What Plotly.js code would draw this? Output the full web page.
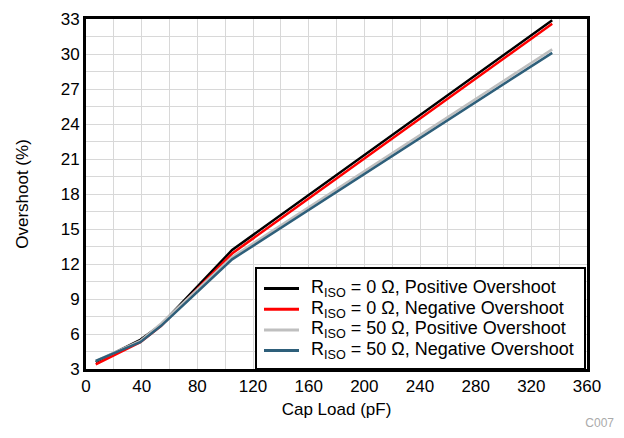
<!DOCTYPE html>
<html>
<head>
<meta charset="utf-8">
<script src="https://cdn.plot.ly/plotly-3.0.1.min.js"></script>
<style>
  html, body { margin: 0; padding: 0; background: #fff; }
  #topline { position: absolute; left: 0; top: 0; width: 624px; height: 2px; background: #555; }
  #chart { width: 624px; height: 438px; }
  #code { position: absolute; right: 10px; top: 416px; font: 12px "Liberation Sans", Arial, sans-serif; color: #aaa; }
</style>
</head>
<body>
<div id="topline"></div>
<div id="chart"></div>
<div id="code">C007</div>
<script>
// Capacitive load (pF)
const capLoad = [7, 39, 54, 105, 335];

// Overshoot (%) for each isolation resistor / edge
const riso0Pos  = [3.6, 5.5, 6.8, 13.2, 32.9];
const riso0Neg  = [3.4, 5.3, 6.7, 12.9, 32.6];
const riso50Pos = [3.7, 5.4, 6.9, 12.6, 30.4];
const riso50Neg = [3.7, 5.3, 6.7, 12.4, 30.1];

const seriesNames = [
  'R<sub>ISO</sub> = 0 Ω, Positive Overshoot',
  'R<sub>ISO</sub> = 0 Ω, Negative Overshoot',
  'R<sub>ISO</sub> = 50 Ω, Positive Overshoot',
  'R<sub>ISO</sub> = 50 Ω, Negative Overshoot'
];
const seriesColors = ['#000000', '#ff0000', '#bfbfbf', '#2e5f7a'];
const seriesValues = [riso0Pos, riso0Neg, riso50Pos, riso50Neg];

const xTicks = [0, 40, 80, 120, 160, 200, 240, 280, 320, 360];
const yTicks = [3, 6, 9, 12, 15, 18, 21, 24, 27, 30, 33];

const traces = seriesValues.map((vals, i) => ({
  x: capLoad,
  y: vals,
  type: 'scatter',
  mode: 'lines',
  name: seriesNames[i],
  showlegend: false,
  line: { color: seriesColors[i], width: 2.5 }
}));

const fontFamily = '"Liberation Sans", Arial, sans-serif';

// Plot-area geometry (px) and a compact boxed key in its lower-right corner
const M = { l: 86, r: 37, t: 19, b: 69 };
const W = 624, H = 438;
const pw = W - M.l - M.r, ph = H - M.t - M.b;
const px = v => (v - M.l) / pw;          // page x -> paper x
const py = v => (H - M.b - v) / ph;      // page y -> paper y

const key = { left: 256, right: 585, top: 268, bottom: 369,
              firstRow: 288.5, rowGap: 20.7, lineX0: 264, lineX1: 299, textX: 309 };

const shapes = [{
  type: 'rect', xref: 'paper', yref: 'paper', layer: 'above',
  x0: px(key.left), x1: px(key.right), y0: py(key.bottom), y1: py(key.top),
  line: { color: '#000', width: 2 }, fillcolor: '#ffffff'
}];
const annotations = [];
seriesNames.forEach((name, i) => {
  const rowY = py(key.firstRow + i * key.rowGap);
  shapes.push({
    type: 'line', xref: 'paper', yref: 'paper', layer: 'above',
    x0: px(key.lineX0), x1: px(key.lineX1), y0: rowY, y1: rowY,
    line: { color: seriesColors[i], width: 3 }
  });
  annotations.push({
    xref: 'paper', yref: 'paper', x: px(key.textX), y: rowY,
    xanchor: 'left', yanchor: 'middle', showarrow: false,
    text: name, font: { family: fontFamily, size: 18, color: '#000' }
  });
});

const layout = {
  width: W,
  height: H,
  margin: M,
  paper_bgcolor: '#ffffff',
  plot_bgcolor: '#ffffff',
  font: { family: fontFamily, size: 17, color: '#000' },
  showlegend: false,
  shapes: shapes,
  annotations: annotations,
  xaxis: {
    range: [0, 360],
    tickvals: xTicks,
    ticktext: xTicks.map(String),
    showgrid: false,
    zeroline: false,
    showline: true, mirror: true, linecolor: '#000', linewidth: 3,
    ticks: '', ticklen: 0,
    tickfont: { size: 17 },
    minor: { dtick: 20, showgrid: true, gridcolor: '#d8d8d8', gridwidth: 1 },
    title: { text: 'Cap Load (pF)', font: { size: 17 }, standoff: 8 }
  },
  yaxis: {
    range: [3, 33],
    tickvals: yTicks,
    ticktext: yTicks.map(String),
    showgrid: false,
    zeroline: false,
    showline: true, mirror: true, linecolor: '#000', linewidth: 3,
    ticks: '', ticklen: 0,
    tickfont: { size: 17 },
    minor: { dtick: 1.5, tick0: 3, showgrid: true, gridcolor: '#d8d8d8', gridwidth: 1 },
    title: { text: 'Overshoot (%)', font: { size: 17 }, standoff: 28 }
  }
};

Plotly.newPlot('chart', traces, layout, { staticPlot: true, displayModeBar: false });
</script>
</body>
</html>
